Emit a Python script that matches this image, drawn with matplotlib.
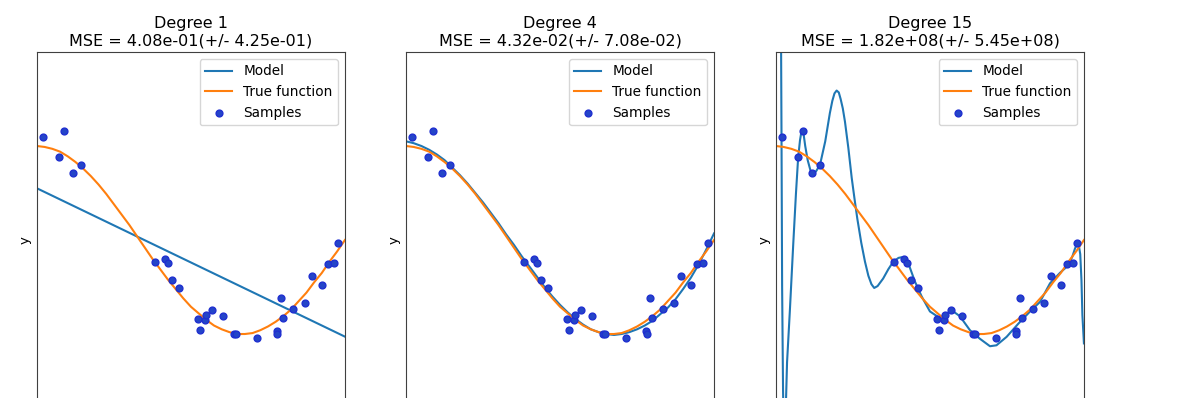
import matplotlib.pyplot as plt

# sample points (same in every panel)
sample_x = [0.019, 0.071, 0.087, 0.118, 0.143, 0.383, 0.415, 0.424, 0.438, 0.462,
            0.522, 0.529, 0.545, 0.549, 0.568, 0.603, 0.640, 0.646, 0.715, 0.778,
            0.781, 0.792, 0.799, 0.833, 0.870, 0.892, 0.926, 0.945, 0.964, 0.979]
sample_y = [1.092, 0.879, 1.156, 0.716, 0.798, -0.230, -0.199, -0.245, -0.426, -0.507,
            -0.840, -0.961, -0.851, -0.801, -0.745, -0.805, -1.004, -0.996, -1.043, -0.968,
            -1.004, -0.613, -0.830, -0.730, -0.674, -0.387, -0.479, -0.252, -0.245, -0.035]

grid_x = [0.0, 0.025, 0.05, 0.075, 0.1, 0.125, 0.15, 0.175, 0.2, 0.225, 0.25,
          0.275, 0.3, 0.325, 0.35, 0.375, 0.4, 0.425, 0.45, 0.475, 0.5,
          0.525, 0.55, 0.575, 0.6, 0.625, 0.65, 0.675, 0.7, 0.725, 0.75,
          0.775, 0.8, 0.825, 0.85, 0.875, 0.9, 0.925, 0.95, 0.975, 1.0]

# true function
true_y = [1.00, 0.99, 0.97, 0.94, 0.89, 0.83, 0.76, 0.68, 0.59, 0.49, 0.38,
          0.27, 0.16, 0.04, -0.08, -0.20, -0.31, -0.42, -0.52, -0.62, -0.71,
          -0.78, -0.85, -0.91, -0.95, -0.98, -1.00, -1.00, -0.99, -0.96, -0.92,
          -0.87, -0.81, -0.74, -0.65, -0.56, -0.45, -0.35, -0.23, -0.12, 0.00]

# fitted models
deg1_x = [0.0, 1.0]
deg1_y = [0.550, -1.028]

deg4_y = [1.05, 1.03, 1.00, 0.96, 0.91, 0.85, 0.77, 0.69, 0.60, 0.50, 0.40,
          0.29, 0.18, 0.06, -0.05, -0.17, -0.28, -0.39, -0.50, -0.60, -0.69,
          -0.77, -0.84, -0.90, -0.95, -0.98, -1.00, -1.01, -1.00, -0.98, -0.95,
          -0.91, -0.86, -0.79, -0.72, -0.63, -0.52, -0.40, -0.26, -0.10, 0.07]

deg15_x = [0.0, 0.016, 0.018, 0.020, 0.023, 0.026, 0.028, 0.031, 0.036, 0.045, 0.056, 0.065,
           0.072, 0.078, 0.082, 0.086, 0.090, 0.095, 0.103, 0.112, 0.120, 0.130, 0.143, 0.160,
           0.175, 0.183, 0.190, 0.197, 0.204, 0.210, 0.217, 0.224, 0.235, 0.246, 0.255, 0.264,
           0.277, 0.289, 0.300, 0.310, 0.319, 0.330, 0.348, 0.365, 0.381, 0.398,
           0.413, 0.430, 0.451, 0.473, 0.500, 0.532, 0.550, 0.565, 0.580, 0.597,
           0.630, 0.662, 0.695, 0.716, 0.749, 0.787, 0.825, 0.857, 0.890, 0.922,
           0.949, 0.962, 0.971, 0.978, 0.984, 0.988, 0.992, 0.995, 1.0]
deg15_y = [25.0, 2.5, 1.1, -0.5, -1.6, -2.15, -2.2, -1.9, -1.3, -0.76, -0.05, 0.50,
           0.875, 1.06, 1.14, 1.16, 1.12, 1.00, 0.85, 0.74, 0.71, 0.73, 0.80, 1.05,
           1.35, 1.48, 1.56, 1.59, 1.57, 1.50, 1.40, 1.26, 0.98, 0.66, 0.44, 0.23,
           -0.03, -0.23, -0.38, -0.47, -0.51, -0.49, -0.41, -0.31, -0.23, -0.19,
           -0.18, -0.25, -0.44, -0.60, -0.76, -0.83, -0.79, -0.76, -0.77, -0.81,
           -0.96, -1.05, -1.13, -1.12, -1.03, -0.89, -0.76, -0.66, -0.46, -0.35,
           -0.27, -0.18, -0.09, -0.04, -0.07, -0.15, -0.43, -0.80, -1.10]

degrees = [1, 4, 15]
mse_mean = ['4.08e-01', '4.32e-02', '1.82e+08']
mse_std = ['4.25e-01', '7.08e-02', '5.45e+08']
models = [(deg1_x, deg1_y), (grid_x, deg4_y), (deg15_x, deg15_y)]

fig = plt.figure(figsize=(11.96, 3.98), dpi=100)
lefts = [0.0309, 0.3395, 0.6488]

for i in range(len(degrees)):
    ax = fig.add_axes([lefts[i], -0.0754, 0.2575, 0.9447])
    ax.plot(models[i][0], models[i][1], color='#1f77b4', lw=1.5, label='Model')
    ax.plot(grid_x, true_y, color='#ff7f0e', lw=1.5, label='True function')
    ax.scatter(sample_x, sample_y, color='#2445c8', edgecolor='#1f2fd0', s=24, label='Samples', zorder=3)
    ax.set_xlim(0, 1)
    ax.set_ylim(-2, 2)
    ax.set_xticks([])
    ax.set_yticks([])
    ax.set_ylabel('y', fontsize=9.5)
    for s in ax.spines.values():
        s.set_color('0.25')
        s.set_linewidth(0.8)
    ax.legend(loc='upper right', fontsize=9.8)
    ax.set_title(f'Degree {degrees[i]}\nMSE = {mse_mean[i]}(+/- {mse_std[i]})', fontsize=11.5, pad=5)

plt.savefig('out.png', dpi=100)
